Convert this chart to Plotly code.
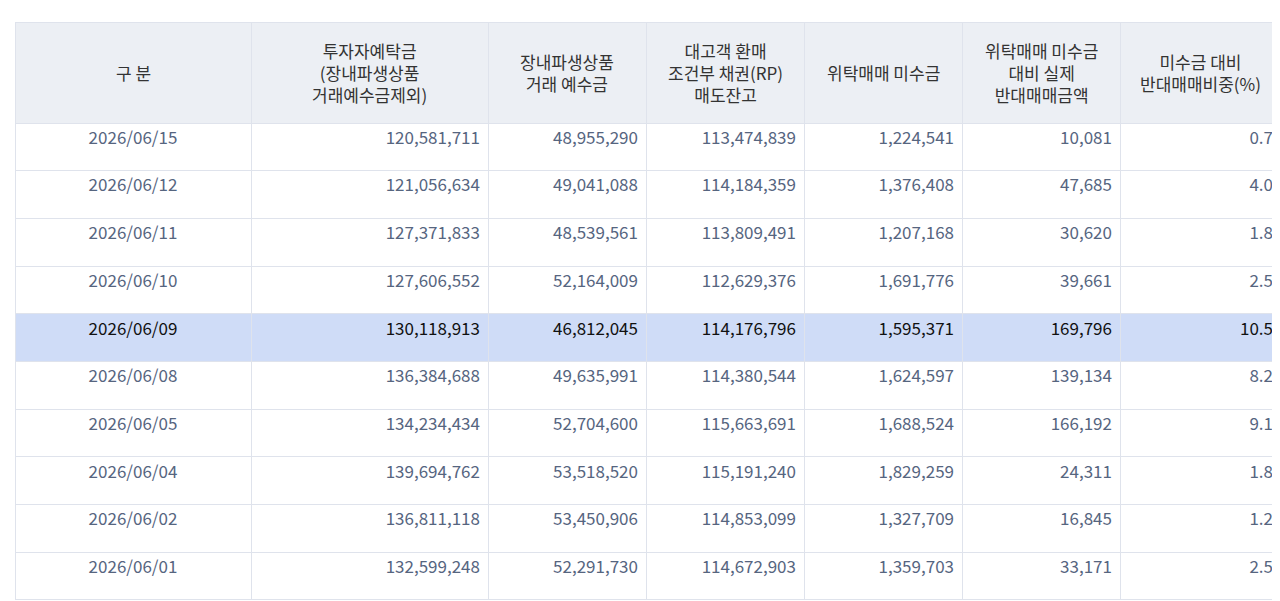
import plotly.graph_objects as go

dates = ["2026/06/15", "2026/06/12", "2026/06/11", "2026/06/10", "2026/06/09",
         "2026/06/08", "2026/06/05", "2026/06/04", "2026/06/02", "2026/06/01"]
deposits = [120581711, 121056634, 127371833, 127606552, 130118913,
            136384688, 134234434, 139694762, 136811118, 132599248]
deriv_deposits = [48955290, 49041088, 48539561, 52164009, 46812045,
                  49635991, 52704600, 53518520, 53450906, 52291730]
rp_balance = [113474839, 114184359, 113809491, 112629376, 114176796,
              114380544, 115663691, 115191240, 114853099, 114672903]
unpaid = [1224541, 1376408, 1207168, 1691776, 1595371,
          1624597, 1688524, 1829259, 1327709, 1359703]
forced_sale = [10081, 47685, 30620, 39661, 169796,
               139134, 166192, 24311, 16845, 33171]
forced_ratio = [0.7, 4.0, 1.8, 2.5, 10.5, 8.2, 9.1, 1.8, 1.2, 2.5]

headers = ["구 분", "투자자예탁금<br>(장내파생상품<br>거래예수금제외)", "장내파생상품<br>거래 예수금",
           "대고객 환매<br>조건부 채권(RP)<br>매도잔고", "위탁매매 미수금",
           "위탁매매 미수금<br>대비 실제<br>반대매매금액", "미수금 대비<br>반대매매비중(%)"]
col_widths = [236, 237, 158, 158, 158, 158, 161]

HIGHLIGHT = 4
row_fill = ["#cfdcf7" if i == HIGHLIGHT else "white" for i in range(len(dates))]
row_font = ["#111111" if i == HIGHLIGHT else "#56657f" for i in range(len(dates))]

def fmt(vals):
    return [f"{v:,}" for v in vals]

columns = [dates, fmt(deposits), fmt(deriv_deposits), fmt(rp_balance),
           fmt(unpaid), fmt(forced_sale), [f"{v:.1f}" for v in forced_ratio]]

W, H = 1280, 601
X0, X1, TOP = 7, 1273, 14
HEADER_H = 101

fig = go.Figure(go.Table(
    domain=dict(x=[X0 / W, X1 / W], y=[0, 1 - TOP / H]),
    columnwidth=col_widths,
    header=dict(
        values=[""] * len(headers),
        fill_color="#eceff4",
        line_color="#dfe3ec",
        height=HEADER_H,
    ),
    cells=dict(
        values=columns,
        fill_color=[row_fill] * 7,
        line_color="#dfe3ec",
        align=["center"] + ["right"] * 6,
        height=47.7,
        font=dict(family="Noto Sans CJK KR", size=17, color=[row_font] * 7),
    ),
))

# header labels as annotations so each line is centred in its cell
total = sum(col_widths)
left = X0
for label, w in zip(headers, col_widths):
    px_w = w / total * (X1 - X0)
    fig.add_annotation(
        x=(left + px_w / 2) / W, y=1 - (TOP + HEADER_H / 2) / H,
        xref="paper", yref="paper", text=label, showarrow=False,
        xanchor="center", yanchor="middle", align="center",
        font=dict(family="Noto Sans CJK KR", size=17, color="#333333"),
    )
    left += px_w

fig.update_layout(
    width=W, height=H,
    margin=dict(l=0, r=0, t=0, b=0),
    paper_bgcolor="white",
)

fig.write_html("out.html")
